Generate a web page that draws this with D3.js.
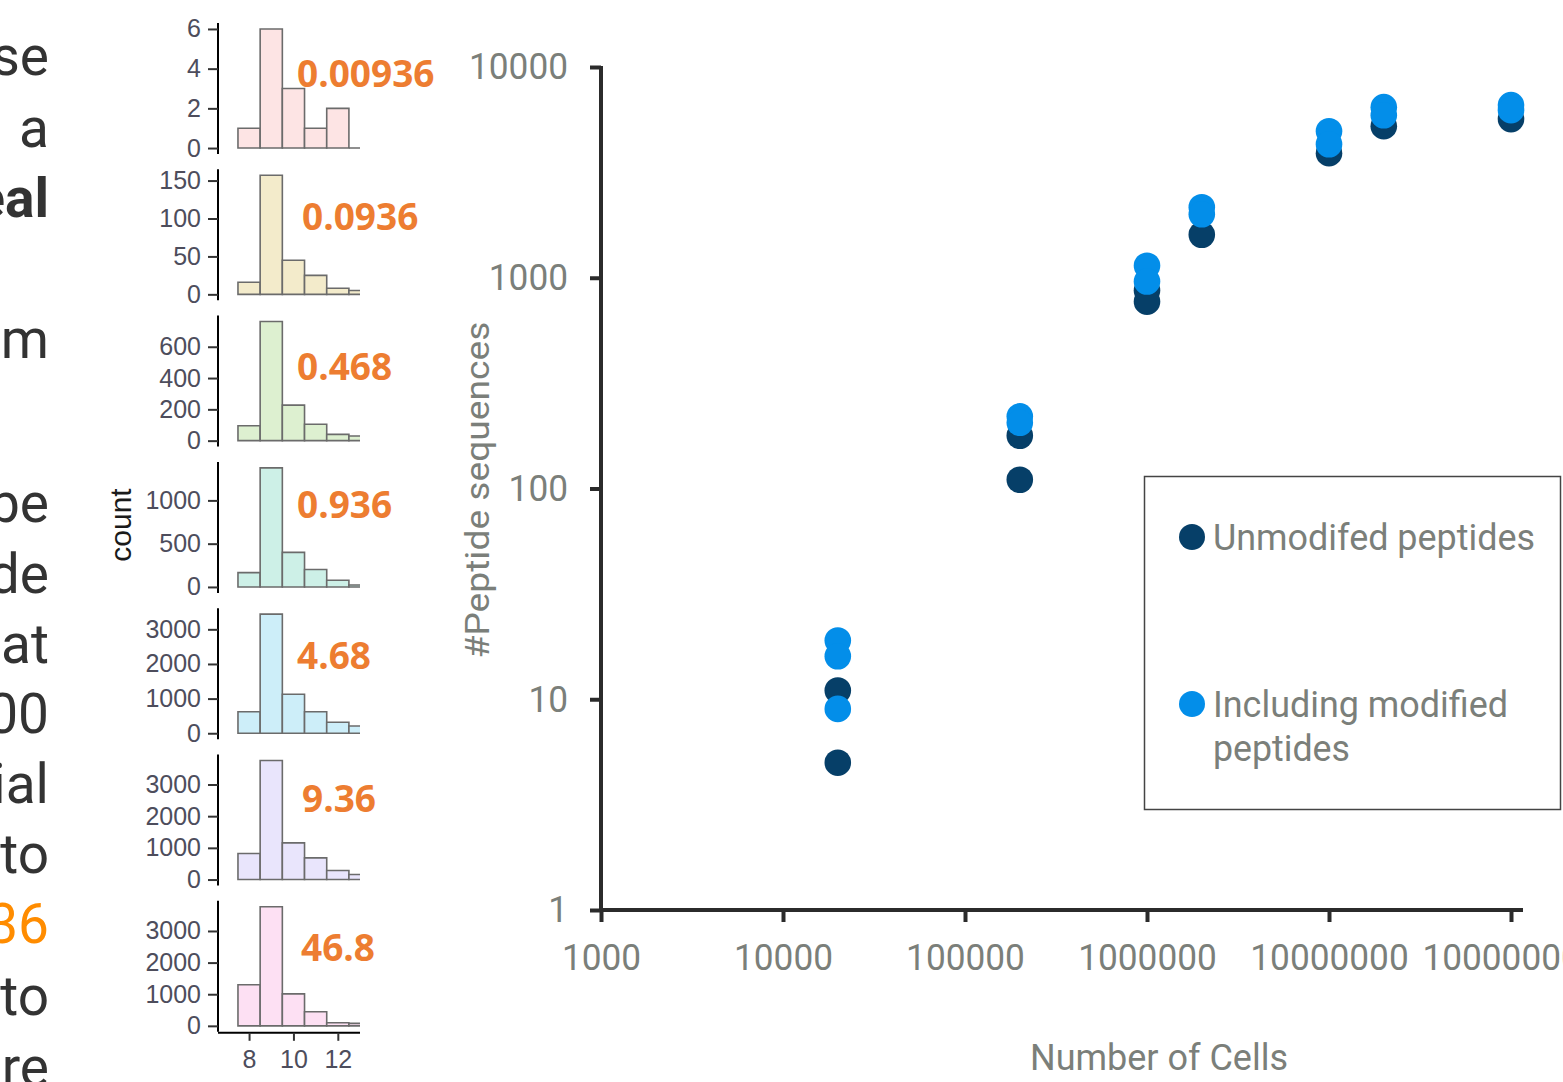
<!DOCTYPE html>
<html>
<head>
<meta charset="utf-8">
<script src="https://cdn.jsdelivr.net/npm/d3@7"></script>
<style>
  html, body { margin: 0; padding: 0; background: #ffffff; }
  svg { display: block; }
</style>
</head>
<body>
<svg id="fig" width="1563" height="1082"></svg>
<script>
// ---- Scatter: peptide sequences vs number of cells ----
const unmodCells    = [20000, 20000, 200000, 200000, 1000000, 1000000, 2000000, 10000000, 20000000, 100000000];
const unmodPeptides = [11, 5, 178, 110, 870, 770, 1600, 3900, 5240, 5660];
const modCells      = [20000, 20000, 20000, 200000, 200000, 1000000, 1000000, 2000000, 2000000, 10000000, 10000000, 20000000, 20000000, 100000000, 100000000];
const modPeptides   = [19, 16, 9, 220, 205, 1140, 960, 2160, 2000, 4960, 4300, 6450, 5900, 6600, 6240];
const xTickValues = [1000, 10000, 100000, 1000000, 10000000, 100000000];
const yTickValues = [1, 10, 100, 1000, 10000];
const seriesNames = ["Unmodifed peptides", "Including modified|peptides"];

// ---- Peptide length histograms (one per input amount) ----
const binCenters = [8, 9, 10, 11, 12, 13];
const histCounts = [
  [1, 6, 3, 1, 2, 0],
  [16, 157, 45, 25, 8, 5],
  [95, 761, 227, 105, 40, 30],
  [166, 1376, 399, 201, 78, 23],
  [622, 3438, 1124, 622, 317, 210],
  [821, 3758, 1158, 685, 284, 158],
  [1299, 3766, 1012, 447, 96, 77]
];
const histLabels = ["0.00936", "0.0936", "0.468", "0.936", "4.68", "9.36", "46.8"];
const histTicks = [
  [0, 2, 4, 6],
  [0, 50, 100, 150],
  [0, 200, 400, 600],
  [0, 500, 1000],
  [0, 1000, 2000, 3000],
  [0, 1000, 2000, 3000],
  [0, 1000, 2000, 3000]
];
const histXTicks = [8, 10, 12];

// ---- Body text running off the left edge ----
const textLines = ["se", "a", "eal", "om", "be", "de", "at", "00", "ial", "to", "36", "to", "ure"];

// styling / layout
const histFills = ["#fde4e4", "#f3ebcb", "#ddf0d0", "#cdf0e7", "#cdeef9", "#e9e5fc", "#fde0f3"];
const labelLayout = [[297, 87], [302, 230], [297, 380], [297, 518], [297, 669], [302, 812], [301, 961]];
const textBaselines = [75, 147, 217, 358, 522, 593, 663, 733, 803, 873, 943, 1015, 1086];
const darkBlue = "#063f68", lightBlue = "#038ee9";
const grayText = "#7b7f7a", axisColor = "#2b2b2b";
const intFmt = d3.format("d");

const svg = d3.select("#fig");

// ---------- left text column ----------
svg.append("g").selectAll("text").data(textLines).join("text")
  .attr("x", 49).attr("y", (d, i) => textBaselines[i])
  .attr("text-anchor", "end")
  .attr("font-family", "Roboto, 'Open Sans', sans-serif")
  .attr("font-size", 55)
  .attr("font-weight", d => d === "eal" ? 700 : 400)
  .attr("fill", d => d === "36" ? "#ff8c00" : "#333333")
  .text(d => d);

// ---------- histograms ----------
const histLeft = 218, histRight = 360;
const panelTop0 = 23, panelStep = 146.3, panelH = 131;
const hx = d3.scaleLinear().domain([6.6, 13.0]).range([histLeft, histRight]);
const histTickFont = "'Liberation Sans', Arial, sans-serif";

svg.append("defs").append("clipPath").attr("id", "histClip")
  .append("rect").attr("x", histLeft).attr("y", 0).attr("width", histRight - histLeft).attr("height", 1082);

histCounts.forEach((counts, k) => {
  const top = panelTop0 + k * panelStep, bottom = top + panelH;
  const maxC = d3.max(counts);
  const hy = d3.scaleLinear().domain([-0.05 * maxC, 1.05 * maxC]).range([bottom, top]);
  const g = svg.append("g");

  g.append("g").attr("clip-path", "url(#histClip)")
    .selectAll("path").data(counts).join("path")
    .attr("d", (c, i) => {
      const x0 = hx(binCenters[i] - 0.5), x1 = hx(binCenters[i] + 0.5);
      return `M${x0},${hy(0)}V${hy(c)}H${x1}V${hy(0)}Z`;
    })
    .attr("fill", histFills[k])
    .attr("stroke", "#6b6b6b")
    .attr("stroke-width", 1.6);

  const ax = g.append("g").attr("transform", `translate(${histLeft},0)`)
    .call(d3.axisLeft(hy).tickValues(histTicks[k]).tickFormat(intFmt)
      .tickSize(10).tickPadding(7).tickSizeOuter(0));
  ax.select(".domain").attr("stroke", "#000").attr("stroke-width", 2)
    .attr("d", `M0,${top}V${bottom}`);
  ax.selectAll(".tick line").attr("stroke", "#333").attr("stroke-width", 2);
  ax.selectAll(".tick text")
    .attr("font-family", histTickFont)
    .attr("font-size", 25).attr("fill", "#4d4d5c");

  g.append("text")
    .attr("x", labelLayout[k][0]).attr("y", labelLayout[k][1])
    .attr("font-family", "'Open Sans', 'Noto Sans', sans-serif")
    .attr("font-weight", 700).attr("font-size", 37)
    .attr("fill", "#ed7d31")
    .text(histLabels[k]);

  if (k === histCounts.length - 1) {
    const bx = g.append("g").attr("transform", `translate(0,${bottom + 1})`)
      .call(d3.axisBottom(hx).tickValues(histXTicks).tickFormat(intFmt)
        .tickSize(8).tickPadding(9).tickSizeOuter(0));
    bx.select(".domain").attr("stroke", "#000").attr("stroke-width", 2)
      .attr("d", `M${histLeft},0H${histRight}`);
    bx.selectAll(".tick line").attr("stroke", "#333").attr("stroke-width", 2);
    bx.selectAll(".tick text")
      .attr("font-family", histTickFont)
      .attr("font-size", 25).attr("fill", "#4d4d5c");
  }
});

svg.append("text")
  .attr("transform", "translate(131,525) rotate(-90)")
  .attr("text-anchor", "middle")
  .attr("font-family", histTickFont)
  .attr("font-size", 30).attr("fill", "#1a1a1a")
  .text("count");

// ---------- scatter ----------
const x = d3.scaleLog().domain([1000, 1e8]).range([601, 1511]);
const y = d3.scaleLog().domain([1, 10000]).range([910, 67]);
const sg = svg.append("g");
const tickFont = "Roboto, 'Open Sans', sans-serif";

const yAx = sg.append("g").attr("transform", `translate(${x(1000)},0)`)
  .call(d3.axisLeft(y).tickValues(yTickValues).tickFormat(intFmt).tickSize(11).tickPadding(22));
yAx.select(".domain").remove();
yAx.selectAll(".tick line").attr("stroke", axisColor).attr("stroke-width", 4);
yAx.selectAll(".tick text")
  .attr("font-family", tickFont).attr("font-size", 37).attr("fill", grayText)
  .attr("textLength", d => String(d).length * 19.8).attr("lengthAdjust", "spacingAndGlyphs");

const xAx = sg.append("g").attr("transform", `translate(0,${y(1)})`)
  .call(d3.axisBottom(x).tickValues(xTickValues).tickFormat(intFmt).tickSize(12).tickPadding(0));
xAx.select(".domain").remove();
xAx.selectAll(".tick line").attr("stroke", axisColor).attr("stroke-width", 4);
xAx.selectAll(".tick text")
  .attr("y", 47).attr("dy", "0.35em")
  .attr("font-family", tickFont).attr("font-size", 37).attr("fill", grayText)
  .attr("textLength", d => String(d).length * 19.8).attr("lengthAdjust", "spacingAndGlyphs");

// axis lines
sg.append("line")
  .attr("x1", x(1000)).attr("x2", x(1000)).attr("y1", y(10000) - 1).attr("y2", y(1) + 2)
  .attr("stroke", axisColor).attr("stroke-width", 4);
sg.append("line")
  .attr("x1", x(1000) - 2).attr("x2", x(1e8) + 12).attr("y1", y(1)).attr("y2", y(1))
  .attr("stroke", axisColor).attr("stroke-width", 4);

// axis titles
sg.append("text")
  .attr("x", 1159).attr("y", 1070).attr("text-anchor", "middle")
  .attr("font-family", tickFont).attr("font-size", 36).attr("fill", grayText)
  .attr("textLength", 258).attr("lengthAdjust", "spacingAndGlyphs")
  .text("Number of Cells");
sg.append("text")
  .attr("transform", "translate(489,490) rotate(-90)").attr("text-anchor", "middle")
  .attr("font-family", tickFont).attr("font-size", 34).attr("fill", grayText)
  .attr("textLength", 337).attr("lengthAdjust", "spacingAndGlyphs")
  .text("#Peptide  sequences");

// points: unmodified first, modified drawn over them
sg.append("g").selectAll("circle").data(unmodCells).join("circle")
  .attr("cx", d => x(d)).attr("cy", (d, i) => y(unmodPeptides[i]))
  .attr("r", 13.3).attr("fill", darkBlue);
sg.append("g").selectAll("circle").data(modCells).join("circle")
  .attr("cx", d => x(d)).attr("cy", (d, i) => y(modPeptides[i]))
  .attr("r", 13.3).attr("fill", lightBlue);

// legend
const lg = sg.append("g");
lg.append("rect").attr("x", 1144.5).attr("y", 476.5).attr("width", 416).attr("height", 333)
  .attr("fill", "none").attr("stroke", "#444").attr("stroke-width", 1.5);
const legendRows = [
  { color: darkBlue, cy: 537, lines: seriesNames[0].split("|"), widths: [322] },
  { color: lightBlue, cy: 704, lines: seriesNames[1].split("|"), widths: [295, 137] }
];
legendRows.forEach(r => {
  lg.append("circle").attr("cx", 1192).attr("cy", r.cy).attr("r", 13).attr("fill", r.color);
  r.lines.forEach((t, j) => {
    lg.append("text")
      .attr("x", 1213).attr("y", r.cy + 13 + j * 44)
      .attr("font-family", tickFont).attr("font-size", 37).attr("fill", grayText)
      .attr("textLength", r.widths[j]).attr("lengthAdjust", "spacingAndGlyphs")
      .text(t);
  });
});
</script>
</body>
</html>
